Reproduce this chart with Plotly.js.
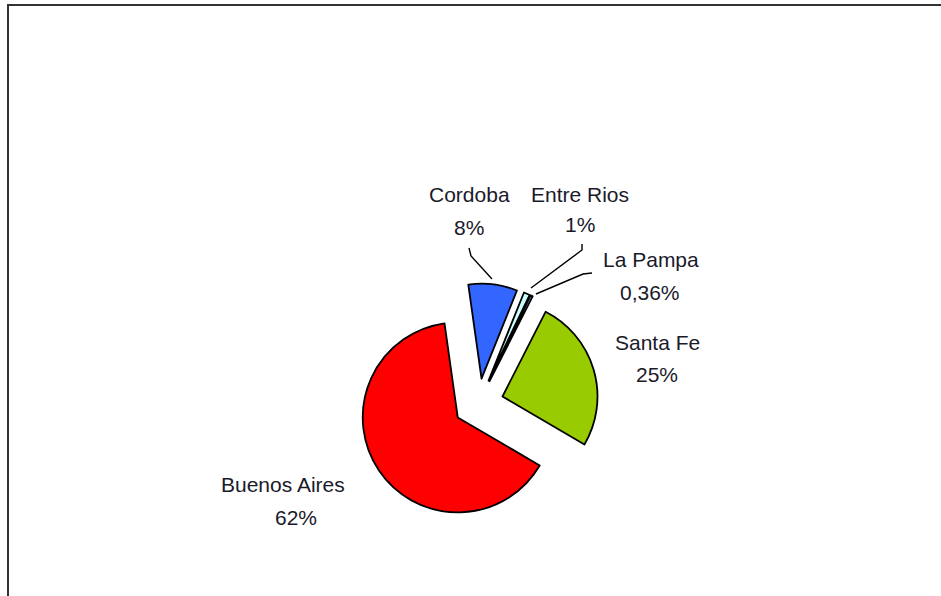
<!DOCTYPE html>
<html>
<head>
<meta charset="utf-8">
<script src="https://cdn.plot.ly/plotly-3.0.1.min.js"></script>
<style>html,body{margin:0;padding:0;background:#fff;}#chart{width:941px;height:596px;}</style>
</head>
<body>
<div id="chart"></div>
<script>
// ---- data ----
const regions = ['Cordoba', 'Entre Rios', 'La Pampa', 'Santa Fe', 'Buenos Aires'];
const values = [8, 1, 0.36, 25, 62];
const pctLabels = ['8%', '1%', '0,36%', '25%', '62%'];
const sliceColors = ['#3366FF', '#CCFFFF', '#99CCFF', '#99CC00', '#FF0000'];

// ---- layout helpers (pixel -> paper) ----
const W = 941, H = 596;
const px = x => x / W;
const py = y => 1 - y / H;

// label anchor positions (pixel centres, cap-middle)
const namePos = [[469, 194], [580, 194], [651, 259], [657, 342], [283, 484]];
const pctPos = [[469, 227], [580, 225], [650, 292], [657, 374], [296, 517]];
const leaderPaths = [
  [[469, 248], [471, 256], [492, 279]],
  [[582, 244], [582, 250], [531, 288]],
  [[592, 273], [583, 274], [536, 294]]
];

const labelFont = {family: 'Liberation Sans, Arial, sans-serif', size: 21, color: '#1a1a2a'};
const annotations = [];
regions.forEach((r, i) => {
  annotations.push({xref: 'paper', yref: 'paper', x: px(namePos[i][0]), y: py(namePos[i][1]),
    text: r, showarrow: false, xanchor: 'center', yanchor: 'middle', font: labelFont});
  annotations.push({xref: 'paper', yref: 'paper', x: px(pctPos[i][0]), y: py(pctPos[i][1]),
    text: pctLabels[i], showarrow: false, xanchor: 'center', yanchor: 'middle', font: labelFont});
});

const shapes = leaderPaths.map(p => ({
  type: 'path', xref: 'paper', yref: 'paper',
  path: 'M' + p.map(q => px(q[0]) + ',' + py(q[1])).join(' L'),
  line: {color: '#000', width: 1.4}
}));
// chart area frame (top & left visible)
shapes.push({type: 'line', xref: 'paper', yref: 'paper', x0: px(7), x1: px(960), y0: py(5), y1: py(5), line: {color: '#333', width: 2}});
shapes.push({type: 'line', xref: 'paper', yref: 'paper', x0: px(8), x1: px(8), y0: py(4), y1: py(620), line: {color: '#333', width: 2}});

const trace = {
  type: 'pie',
  labels: regions,
  values: values,
  sort: false,
  direction: 'clockwise',
  rotation: -8,
  pull: 0.263,
  textinfo: 'none',
  hoverinfo: 'label+percent',
  marker: {colors: sliceColors, line: {color: '#000', width: 1.8}},
  domain: {x: [px(358.5), px(598.5)], y: [py(523.5), py(283.5)]}
};

const layout = {
  width: W, height: H,
  margin: {l: 0, r: 0, t: 0, b: 0},
  paper_bgcolor: '#fff',
  showlegend: false,
  annotations: annotations,
  shapes: shapes
};

Plotly.newPlot('chart', [trace], layout, {displayModeBar: false, staticPlot: true});
</script>
</body>
</html>
